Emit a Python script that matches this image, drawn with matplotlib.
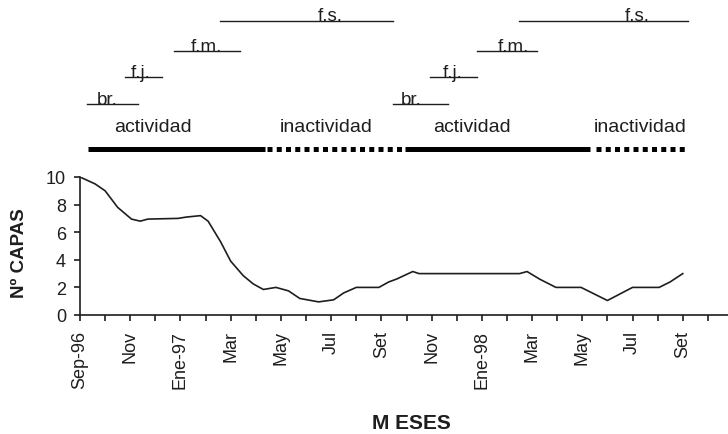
import numpy as np
import matplotlib
matplotlib.use("Agg")
import matplotlib.pyplot as plt

plt.rcParams['font.family'] = ['Liberation Sans', 'DejaVu Sans']

############################# Data ######################################

# months counted from Sep-96 (=0)
x_mes = [0, 0.6, 1.0, 1.5, 2.05, 2.4, 2.7, 3.9, 4.25, 4.8, 5.1, 5.6, 6.0,
         6.5, 6.9, 7.3, 7.8, 8.3, 8.75, 9.5, 10.1, 10.5, 11.0, 11.9, 12.3,
         12.6, 13.25, 13.5, 17.5, 17.8, 18.3, 18.95, 19.95, 21.0, 22.0,
         23.06, 23.5, 24.0]
capas = [10, 9.5, 9.0, 7.8, 6.95, 6.8, 6.95, 7.0, 7.1, 7.2, 6.8, 5.3, 3.9,
         2.85, 2.25, 1.85, 2.0, 1.75, 1.2, 0.95, 1.1, 1.6, 2.0, 2.0, 2.4,
         2.6, 3.15, 3.0, 3.0, 3.15, 2.6, 2.0, 2.0, 1.05, 2.0, 2.0, 2.4, 3.0]

mes_labels = ["Sep-96", "", "Nov", "", "Ene-97", "", "Mar", "", "May", "",
              "Jul", "", "Set", "", "Nov", "", "Ene-98", "", "Mar", "",
              "May", "", "Jul", "", "Set", "", ""]

# activity periods (start, end, label, solid?)
periodos = [(0.3, 7.35, "actividad", True),
            (7.45, 12.85, "inactividad", False),
            (12.95, 20.3, "actividad", True),
            (20.55, 24.2, "inactividad", False)]
periodo_txt_x = [2.91, 9.82, 15.61, 22.29]

# stage bars (start, end, label, label centre, level)
estadios = [(0.27, 2.32, "br.", 1.09, 0),
            (1.79, 3.25, "f.j.", 2.43, 1),
            (3.75, 6.37, "f.m.", 5.05, 2),
            (5.57, 12.45, "f.s.", 9.96, 3),
            (12.47, 14.66, "br.", 13.2, 0),
            (13.94, 15.79, "f.j.", 14.83, 1),
            (15.82, 18.18, "f.m.", 17.25, 2),
            (17.49, 24.22, "f.s.", 22.2, 3)]
nivel_y = [15.29, 17.25, 19.13, 21.33]

############################# Plot ######################################

ink = "#1e1e1e"
fig = plt.figure(figsize=(7.28, 4.35), dpi=100)
ax = fig.add_axes([80 / 728, 119 / 435, 653 / 728, 138 / 435])

ax.plot(x_mes, capas, color=ink, linewidth=1.2)

ax.set_xlim(0, 26)
ax.set_ylim(0, 10)
ax.set_xticks(np.arange(0, 27))
ax.set_xticklabels(mes_labels, rotation=90, fontsize=13, color=ink)
ax.set_yticks(np.arange(0, 11, 2))
ax.set_yticklabels([str(v) for v in range(0, 11, 2)], fontsize=13, color=ink)
ax.tick_params(axis='both', direction='out', length=4, width=1.2, color=ink)
ax.tick_params(axis='x', pad=7)
ax.tick_params(axis='y', pad=6)
for s in ['top', 'right']:
    ax.spines[s].set_visible(False)
for s in ['left', 'bottom']:
    ax.spines[s].set_linewidth(1.2)
    ax.spines[s].set_color(ink)

# activity bars
bar_y = 12.03
for (a, b, lab, solid), tx in zip(periodos, periodo_txt_x):
    if solid:
        ax.plot([a, b], [bar_y, bar_y], color='black', linewidth=3.6,
                solid_capstyle='butt', clip_on=False)
    else:
        ax.plot([a, b], [bar_y, bar_y], color='black', linewidth=3.6,
                linestyle=(0, (1.0, 0.85)), dash_capstyle='butt', clip_on=False)
    ax.text(tx, 13.36, lab, ha='center', va='baseline', fontsize=14,
            color=ink, clip_on=False)

# stage lines
for a, b, lab, tx, lvl in estadios:
    yy = nivel_y[lvl]
    ax.plot([a, b], [yy, yy], color=ink, linewidth=1.0, clip_on=False)
    ax.text(tx, yy + 0.02, lab, ha='center', va='baseline', fontsize=13.5,
            color=ink, clip_on=False)

fig.text(20 / 728, 1 - 253 / 435, "Nº CAPAS", rotation=90, ha='center',
         va='center', fontsize=13.5, fontweight='bold', color=ink)
fig.text(411 / 728, 1 - 424 / 435, "M ESES", ha='center', va='center',
         fontsize=15, fontweight='bold', color=ink)

plt.savefig("out.png", dpi=100)
